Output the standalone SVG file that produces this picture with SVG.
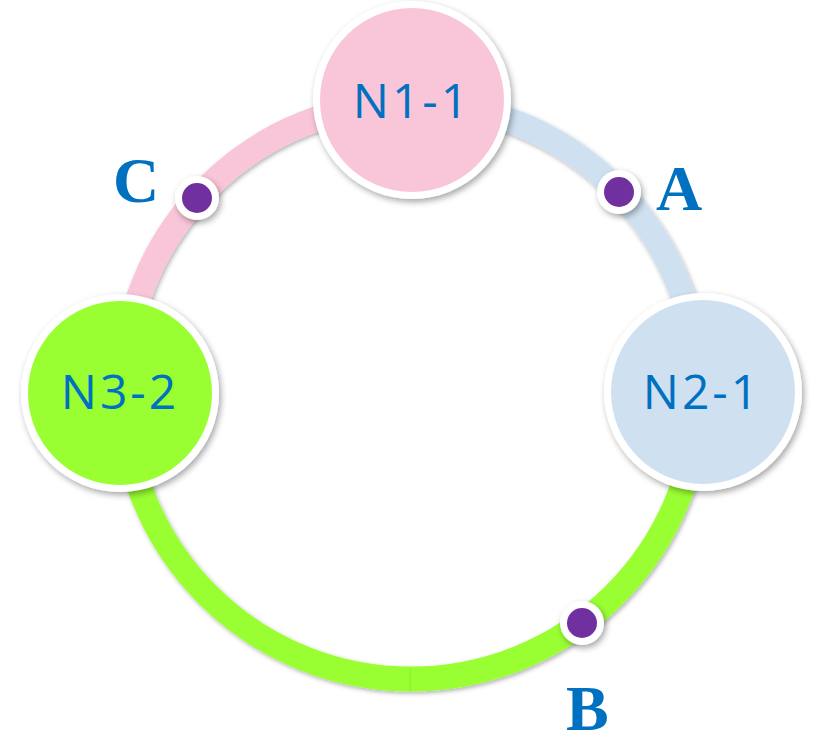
<svg xmlns="http://www.w3.org/2000/svg" width="813" height="732" viewBox="0 0 813 732">
  <defs>
    <filter id="shadow" x="-20%" y="-20%" width="140%" height="140%">
      <feDropShadow dx="2" dy="3" stdDeviation="3" flood-color="#000" flood-opacity="0.35"/>
    </filter>
    <filter id="arcShadow" x="-10%" y="-10%" width="120%" height="120%">
      <feDropShadow dx="1.5" dy="2" stdDeviation="2" flood-color="#000" flood-opacity="0.3"/>
    </filter>
  </defs>
  <style>
    .arc { fill: none; stroke-width: 25; filter: url(#arcShadow); }
    .node-ring { fill: #ffffff; filter: url(#shadow); }
    .node-label { font-family: "Open Sans", "Noto Sans", sans-serif; font-size: 48px; fill: #0070C0; text-anchor: middle; letter-spacing: 3px; }
    .dot-ring { fill: #ffffff; filter: url(#shadow); }
    .dot { fill: #7030A0; }
    .point-label { font-family: "Liberation Serif", "Times New Roman", serif; font-weight: bold; font-size: 64px; fill: #0070C0; }
  </style>

  <!-- ring segments between nodes -->
  <g id="connectors">
    <path class="arc" stroke="#F9C6D9" d="M 123 391 A 288 288 0 0 1 411 103"/>
    <path class="arc" stroke="#CFE0F1" d="M 411 103 A 288 288 0 0 1 699 391"/>
    <path class="arc" stroke="#99FF33" d="M 411 679 A 288 288 0 0 1 123 391"/>
    <path class="arc" stroke="#99FF33" d="M 699 391 A 288 288 0 0 1 411 679"/>
  </g>

  <!-- points on the ring -->
  <g id="point-C">
    <circle class="dot-ring" cx="197" cy="198" r="22"/>
    <circle class="dot" cx="197" cy="198" r="15"/>
    <text class="point-label" x="113" y="202">C</text>
  </g>
  <g id="point-A">
    <circle class="dot-ring" cx="619" cy="192" r="22"/>
    <circle class="dot" cx="619" cy="192" r="15"/>
    <text class="point-label" x="656" y="210">A</text>
  </g>
  <g id="point-B">
    <circle class="dot-ring" cx="582" cy="623" r="22"/>
    <circle class="dot" cx="582" cy="623" r="15"/>
    <text class="point-label" x="566" y="730">B</text>
  </g>

  <!-- nodes -->
  <g id="node-N1-1">
    <circle class="node-ring" cx="412" cy="100" r="99"/>
    <circle cx="412" cy="100" r="92" fill="#F9C6D9"/>
    <text class="node-label" x="412" y="118">N1-1</text>
  </g>
  <g id="node-N3-2">
    <circle class="node-ring" cx="120" cy="393" r="99"/>
    <circle cx="120" cy="393" r="92" fill="#99FF33"/>
    <text class="node-label" x="120" y="409">N3-2</text>
  </g>
  <g id="node-N2-1">
    <circle class="node-ring" cx="703" cy="392" r="99"/>
    <circle cx="703" cy="392" r="92" fill="#CFE0F1"/>
    <text class="node-label" x="702" y="409">N2-1</text>
  </g>
</svg>
